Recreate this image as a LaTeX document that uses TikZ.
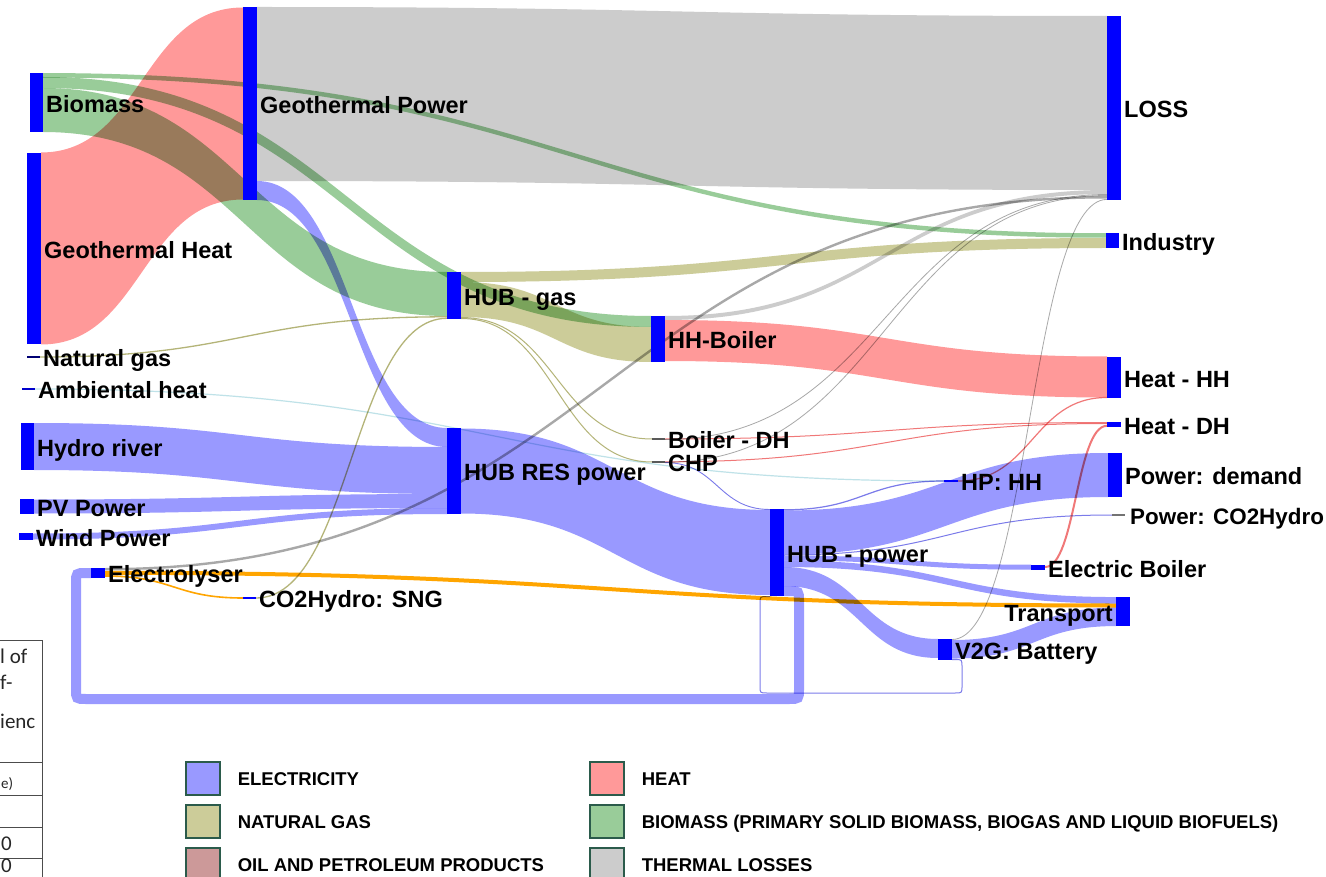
\documentclass[tikz,border=0pt]{standalone}
\usepackage{fontspec}
\setmainfont{Liberation Sans}
\newfontfamily\tablefont{Carlito}
\usetikzlibrary{calc}
\pgfdeclarelayer{bg}
\pgfdeclarelayer{flows}
\pgfsetlayers{bg,flows,main}

\definecolor{barblue}{HTML}{0000FF}
\definecolor{elec}{HTML}{9999FF}
\definecolor{heat}{HTML}{FF9999}
\definecolor{gas}{HTML}{CCCC99}
\definecolor{bio}{HTML}{99CC99}
\definecolor{oil}{HTML}{CC9999}
\definecolor{lossc}{HTML}{CCCCCC}
\definecolor{h2}{HTML}{FFA500}
\definecolor{amb}{HTML}{BFE2E8}
\definecolor{elecline}{HTML}{7B7BEA}
\definecolor{heatline}{HTML}{F07878}
\definecolor{gasline}{HTML}{B4B478}
\definecolor{lossline}{HTML}{A8A8A8}
\definecolor{legendedge}{HTML}{2B5B4B}

\tikzset{
  barbox/.style={fill=barblue, draw=none, inner sep=0pt, outer sep=0pt},
  stubbox/.style={barbox, fill=#1},
  stubbox/.default=barblue,
  lbl/.style={font=\fontsize{23.5}{25}\selectfont\bfseries, text=black,
    inner sep=0pt, text height=16.8pt, text depth=0pt, yshift=-1.5pt},
  lblr/.style={lbl, xshift=3pt},
  lbll/.style={lbl, xshift=-3pt},
  legbox/.style={draw=legendedge, line width=1.2pt, minimum width=34pt,
    minimum height=33pt, inner sep=0pt},
  legtxt/.style={font=\fontsize{18.5}{20}\selectfont\bfseries, inner sep=0pt,
    text height=13.3pt, text depth=0pt, xshift=17pt},
  tabline/.style={draw=black!70, line width=0.9pt},
  tabtxt/.style={font=\tablefont\fontsize{21}{23}\selectfont, inner sep=0pt, text=black!85},
}

% bar node: [style]{name}{x1}{y1}{x2}{y2}{label}
\newcommand\barnode[7][barbox]{%
  \node[#1, minimum width={(#5-#3)*1pt}, minimum height={(#6-#4)*1pt},
        label={#7}] (#2) at ({(#3+#5)/2},{(#4+#6)/2}) {};}

% sankey band: {from}{centre y at from}{to}{centre y at to}{width}{colour}
\newcommand\link[6]{%
  \fill[#6] let \p1=(#1.east), \p2=(#3.west), \n1={0.5*(\x1+\x2)} in
    (\x1,{-(#2-#5/2)*1pt}) .. controls (\n1,{-(#2-#5/2)*1pt})
      and (\n1,{-(#4-#5/2)*1pt}) .. (\x2,{-(#4-#5/2)*1pt})
    -- (\x2,{-(#4+#5/2)*1pt}) .. controls (\n1,{-(#4+#5/2)*1pt})
      and (\n1,{-(#2+#5/2)*1pt}) .. (\x1,{-(#2+#5/2)*1pt}) -- cycle;}

% hairline link for very small flows
\newcommand\thinlink[6]{%
  \draw[line width=#5pt, #6] let \p1=(#1.east), \p2=(#3.west),
      \n1={0.5*(\x1+\x2)} in
    (\x1,-#2pt) .. controls (\n1,-#2pt) and (\n1,-#4pt) .. (\x2,-#4pt);}

\begin{document}
\begin{tikzpicture}[x=1pt,y=-1pt]
\useasboundingbox (0,0) rectangle (1326,877);
\begin{pgfonlayer}{bg}
  \fill[white] (0,0) rectangle (1326,877);
\end{pgfonlayer}

% ---------- nodes ----------
\barnode{bio}{30}{73}{43}{132}{[lblr]right:{Biomass}}
\barnode{geoheat}{27}{153}{41}{344}{[lblr]right:{Geothermal Heat}}
\barnode[stubbox=black!55!blue]{natgas}{27}{356.3}{40}{357.7}{[lblr]right:{Natural gas}}
\barnode[stubbox=barblue!80!black]{ambient}{22}{388.3}{35}{389.7}{[lblr]right:{Ambiental heat}}
\barnode{hydro}{21}{423}{34}{470}{[lblr]right:{Hydro river}}
\barnode{pv}{20}{499}{34}{514}{[lblr]right:{PV Power}}
\barnode{wind}{19}{533}{33}{540}{[lblr]right:{Wind Power}}
\barnode{electrolyser}{91}{568}{105}{578}{[lblr]right:{Electrolyser}}
\barnode{sng}{243}{597.1}{256}{598.9}{[lblr]right:{CO2Hydro: SNG}}
\barnode{geopower}{243}{7}{257}{200}{[lblr]right:{Geothermal Power}}
\barnode{hubgas}{447}{272}{461}{319}{[lblr]right:{HUB - gas}}
\barnode{hubres}{447}{428}{461}{514}{[lblr]right:{HUB RES power}}
\barnode{hhboiler}{651}{316}{665}{362}{[lblr]right:{HH-Boiler}}
\barnode[stubbox=black!65]{boilerdh}{652}{438.3}{665}{439.7}{[lblr]right:{Boiler - DH}}
\barnode[stubbox=black!65]{chp}{652}{461.3}{665}{462.7}{[lblr]right:{CHP}}
\barnode{hubpower}{770}{509}{784}{596}{[lblr]right:{HUB - power}}
\barnode{hphh}{944}{480}{958}{482}{[lblr]right:{HP: HH}}
\barnode{elboiler}{1031}{565}{1045}{569.5}{[lblr]right:{Electric Boiler}}
\barnode{v2g}{938}{639}{952}{660}{[lblr]right:{V2G: Battery}}
\barnode{loss}{1107}{16}{1121}{200}{[lblr]right:{LOSS}}
\barnode{industry}{1106}{233}{1119}{248}{[lblr]right:{Industry}}
\barnode{heathh}{1107}{357}{1121}{398}{[lblr]right:{Heat - HH}}
\barnode{heatdh}{1107}{422}{1121}{427}{[lblr]right:{Heat - DH}}
\barnode{powdem}{1108}{453}{1122}{497}{[lblr]right:{Power: demand}}
\barnode[stubbox=black!55]{powco2}{1112}{514.3}{1125}{515.7}{[lblr, font=\fontsize{22.4}{25}\selectfont\bfseries, xshift=2pt]right:{Power: CO2Hydro}}
\barnode{transport}{1116}{597}{1130}{626}{[lbll]left:{Transport}}

\coordinate (lp1) at (0,591);
\coordinate (lp2) at (0,573);
\coordinate (lq1) at (0,659.5);
\coordinate (lq2) at (0,596.5);

% ---------- flows ----------
\begin{pgfonlayer}{flows}
\begin{scope}[blend mode=multiply]
\link{geoheat}{248.5}{geopower}{103.5}{192}{heat}
\link{bio}{75.3}{industry}{235.5}{4.5}{bio}
\link{bio}{82.5}{hhboiler}{321.5}{11}{bio}
\link{bio}{110}{hubgas}{294}{44}{bio}
\link{geopower}{94}{loss}{103}{174}{lossc}
\link{geopower}{190.5}{hubres}{437.5}{19}{elec}
\thinlink{natgas}{357}{hubgas}{316.8}{1.3}{gasline}
\thinlink{sng}{598}{hubgas}{318.3}{1.3}{gasline}
\thinlink{ambient}{389}{hphh}{481}{1.2}{amb}
\link{hydro}{446.5}{hubres}{470.5}{47}{elec}
\link{pv}{506.5}{hubres}{501}{14}{elec}
\link{wind}{536.5}{hubres}{511}{6}{elec}
\link{hubres}{471}{hubpower}{552.5}{85}{elec}
\link{hubgas}{277}{industry}{243}{10}{gas}
\link{hubgas}{299.5}{hhboiler}{344.5}{35}{gas}
\thinlink{hubgas}{317.5}{boilerdh}{439}{1}{gasline}
\thinlink{hubgas}{318.5}{chp}{462}{1}{gasline}
\link{hhboiler}{318}{loss}{192}{4}{lossc}
\link{hhboiler}{340.5}{heathh}{377}{41}{heat}
\thinlink{boilerdh}{439}{heatdh}{422.5}{1}{heatline}
\thinlink{boilerdh}{439.5}{loss}{194.5}{0.8}{lossline}
\thinlink{chp}{461.8}{heatdh}{423.5}{1}{heatline}
\thinlink{chp}{462.3}{loss}{195.5}{0.8}{lossline}
\thinlink{chp}{462.6}{hubpower}{509.5}{0.9}{elecline}
\thinlink{hphh}{481}{heathh}{397.5}{1.2}{heatline}
\thinlink{elboiler}{567}{heatdh}{425.8}{2}{heatline}
\thinlink{electrolyser}{569.2}{loss}{197.3}{2.4}{lossline}
\link{electrolyser}{572.8}{transport}{605.5}{4}{h2}
\thinlink{electrolyser}{576}{sng}{598}{1.6}{h2}
\thinlink{v2g}{639.5}{loss}{199.4}{0.8}{lossline}
\link{v2g}{649.3}{transport}{616.8}{18.5}{elec}
\thinlink{hubpower}{509.8}{hphh}{481}{1.2}{elecline}
\link{hubpower}{532.5}{powdem}{475}{44}{elec}
\thinlink{hubpower}{555}{powco2}{515}{1}{elecline}
\link{hubpower}{558}{elboiler}{567.2}{5}{elec}
\link{hubpower}{563.8}{transport}{600.3}{6.5}{elec}
\link{hubpower}{576.5}{v2g}{648.5}{19}{elec}
% electricity fed back round to the electrolyser
\draw[elec, line width=10pt] (hubpower.east |- lp1) -- (789,591)
  .. controls (799,591) .. (799,601) -- (799,689)
  .. controls (799,699) .. (789,699) -- (86,699)
  .. controls (76,699) .. (76,689) -- (76,583)
  .. controls (76,573) .. (86,573) -- (electrolyser.west |- lp2);
% battery discharge back to the power hub
\draw[elecline, line width=1pt] (v2g.east |- lq1) -- (955,659.5)
  .. controls (962,659.5) .. (962,667) -- (962,686)
  .. controls (962,693) .. (955,693) -- (767,693)
  .. controls (760,693) .. (760,686) -- (760,604)
  .. controls (760,596.5) .. (767,596.5) -- (hubpower.west |- lq2);
\end{scope}
\end{pgfonlayer}

% ---------- legend ----------
\node[legbox, fill=elec, label={[legtxt]right:{ELECTRICITY}}] (kelec) at (203,778.5) {};
\node[legbox, fill=gas, label={[legtxt]right:{NATURAL GAS}}] (kgas) at (203,821.5) {};
\node[legbox, fill=oil, label={[legtxt]right:{OIL AND PETROLEUM PRODUCTS}}] (koil) at (203,864.5) {};
\node[legbox, fill=heat, label={[legtxt]right:{HEAT}}] (kheat) at (607,778.5) {};
\node[legbox, fill=bio, label={[legtxt]right:{BIOMASS (PRIMARY SOLID BIOMASS, BIOGAS AND LIQUID BIOFUELS)}}] (kbio) at (607,821.5) {};
\node[legbox, fill=lossc, label={[legtxt]right:{THERMAL LOSSES}}] (kloss) at (607,864.5) {};

% ---------- table edge at the lower left ----------
\draw[tabline] (0,640) -- (42,640) -- (42,880);
\draw[tabline] (0,762) -- (42,762);
\draw[tabline] (0,795) -- (42,795);
\draw[tabline] (0,827) -- (42,827);
\draw[tabline] (0,858) -- (42,858);
\node[tabtxt, anchor=base west] (t1) at (0,663) {l of};
\node[tabtxt, anchor=base west] (t2) at (0,689) {f-};
\node[tabtxt, anchor=base west] (t3) at (0,728) {ienc};
\node[tabtxt, anchor=base west, font=\tablefont\fontsize{15}{17}\selectfont] (t4) at (1,788) {e)};
\node[tabtxt, anchor=base west] (t5) at (1,850) {0};
\node[tabtxt, anchor=base west] (t6) at (1,872) {0};
\end{tikzpicture}
\end{document}
